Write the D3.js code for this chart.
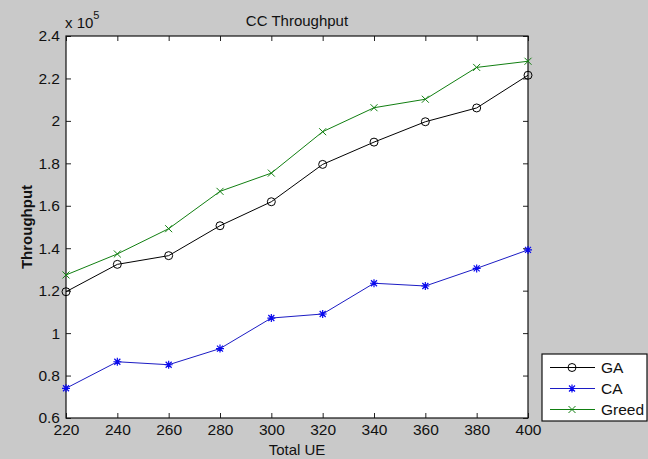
<!DOCTYPE html>
<html>
<head>
<meta charset="utf-8">
<script src="https://cdn.jsdelivr.net/npm/d3@7"></script>
<style>
	body { margin: 0; background: #c9c9c9; }
	svg text { font-family: "Liberation Sans", Arial, Helvetica, sans-serif; fill: #111; }
</style>
</head>
<body>
<div id="chart"></div>
<script>
let totalUE = [220, 240, 260, 280, 300, 320, 340, 360, 380, 400];
let gaValues = [119500, 132400, 136500, 150600, 161900, 179500, 190000, 199600, 206100, 221500];
let caValues = [74000, 86500, 85100, 92700, 107100, 109000, 123500, 122200, 130500, 139200];
let greedValues = [127400, 137300, 149200, 166800, 175400, 194900, 206200, 210200, 225200, 228100];
let xTicks = [220, 240, 260, 280, 300, 320, 340, 360, 380, 400];
let yTicks = [60000, 80000, 100000, 120000, 140000, 160000, 180000, 200000, 220000, 240000];
let seriesNames = ["GA", "CA", "Greed"];

let width = 648, height = 459;
let padding = {top: 36, right: 120, bottom: 41, left: 66};
let plot_width = width - padding.left - padding.right;
let plot_height = height - padding.top - padding.bottom;

let series = [
	{name: seriesNames[0], values: gaValues, color: "#000000", marker: "circle"},
	{name: seriesNames[1], values: caValues, color: "#1c1cc4", marker: "star"},
	{name: seriesNames[2], values: greedValues, color: "#117f11", marker: "cross"}
];

let svg = d3.select("#chart")
	.append("svg")
	.attr("width", width)
	.attr("height", height);

let graph = svg.append("g")
	.attr("transform", "translate(" + padding.left + "," + padding.top + ")");

let xScale = d3.scaleLinear().domain([220, 400]).range([0, plot_width]);
let yScale = d3.scaleLinear().domain([60000, 240000]).range([plot_height, 0]);

graph.append("rect")
	.attr("width", plot_width)
	.attr("height", plot_height)
	.attr("fill", "#fff");

function format_y(d) {
	return d3.format("~g")(Math.round(d / 1e4) / 10);
}

// ticks point inward on all four sides, like a boxed matlab axes
let xAxis = d3.axisBottom(xScale).tickValues(xTicks).tickSizeInner(-5).tickSizeOuter(0).tickPadding(6);
let yAxis = d3.axisLeft(yScale).tickValues(yTicks).tickSizeInner(-5).tickSizeOuter(0).tickPadding(6).tickFormat(format_y);
let xAxisTop = d3.axisTop(xScale).tickValues(xTicks).tickSizeInner(-5).tickSizeOuter(0).tickFormat("");
let yAxisRight = d3.axisRight(yScale).tickValues(yTicks).tickSizeInner(-5).tickSizeOuter(0).tickFormat("");

graph.append("g").attr("class", "axis").attr("transform", "translate(0," + plot_height + ")").call(xAxis);
graph.append("g").attr("class", "axis").call(yAxis);
graph.append("g").attr("class", "axis").call(xAxisTop);
graph.append("g").attr("class", "axis").attr("transform", "translate(" + plot_width + ",0)").call(yAxisRight);

graph.selectAll(".axis .domain").remove();
graph.selectAll(".axis line").attr("stroke", "#222");
graph.selectAll(".axis text")
	.style("font-size", "15.5px")
	.attr("fill", "#111");

graph.append("rect")
	.attr("width", plot_width)
	.attr("height", plot_height)
	.attr("fill", "none")
	.attr("stroke", "#111")
	.attr("stroke-width", 1.2);

function drawMarker(g, type, x, y, color) {
	if (type === "circle") {
		g.append("circle").attr("cx", x).attr("cy", y).attr("r", 4)
			.attr("fill", "none").attr("stroke", color).attr("stroke-width", 1);
	} else if (type === "cross") {
		g.append("path")
			.attr("d", "M" + (x - 3.5) + "," + (y - 3.5) + "L" + (x + 3.5) + "," + (y + 3.5) +
				"M" + (x - 3.5) + "," + (y + 3.5) + "L" + (x + 3.5) + "," + (y - 3.5))
			.attr("stroke", color).attr("stroke-width", 1);
	} else {
		g.append("path")
			.attr("d", "M" + (x - 4) + "," + y + "L" + (x + 4) + "," + y +
				"M" + x + "," + (y - 4) + "L" + x + "," + (y + 4) +
				"M" + (x - 3) + "," + (y - 3) + "L" + (x + 3) + "," + (y + 3) +
				"M" + (x - 3) + "," + (y + 3) + "L" + (x + 3) + "," + (y - 3))
			.attr("stroke", "#0a0aee").attr("stroke-width", 1.2);
	}
}

let line = d3.line()
	.x((d, i) => xScale(totalUE[i]))
	.y(d => yScale(d));

series.forEach(function (s) {
	let g = graph.append("g").attr("class", "series");
	g.append("path")
		.attr("d", line(s.values))
		.attr("fill", "none")
		.attr("stroke", s.color)
		.attr("stroke-width", 1);
	s.values.forEach(function (v, i) {
		drawMarker(g, s.marker, xScale(totalUE[i]), yScale(v), s.color);
	});
});

// title, axis labels, exponent
svg.append("text")
	.attr("x", padding.left + plot_width / 2)
	.attr("y", 26)
	.style("text-anchor", "middle")
	.style("font-size", "15px")
	.text("CC Throughput");

svg.append("text")
	.attr("x", padding.left + plot_width / 2)
	.attr("y", 455)
	.style("text-anchor", "middle")
	.style("font-size", "15px")
	.text("Total UE");

svg.append("text")
	.attr("transform", "translate(32," + (padding.top + plot_height / 2) + ") rotate(-90)")
	.style("text-anchor", "middle")
	.style("font-size", "15px")
	.style("font-weight", "bold")
	.text("Throughput");

let expo = svg.append("text")
	.attr("x", 65)
	.attr("y", 28)
	.style("font-size", "15px");
expo.append("tspan").text("x 10");
expo.append("tspan").attr("dy", -9).style("font-size", "11px").text("5");

// legend
let legend = svg.append("g").attr("transform", "translate(542,354)");
legend.append("rect")
	.attr("width", 105)
	.attr("height", 67)
	.attr("fill", "#fff")
	.attr("stroke", "#111")
	.attr("stroke-width", 1.2);

series.forEach(function (s, i) {
	let y = 13.5 + i * 21;
	legend.append("line")
		.attr("x1", 8).attr("x2", 53)
		.attr("y1", y).attr("y2", y)
		.attr("stroke", s.color).attr("stroke-width", 1);
	drawMarker(legend, s.marker, 30, y, s.color);
	legend.append("text")
		.attr("x", 59)
		.attr("y", y)
		.attr("dy", "0.36em")
		.style("font-size", "15.5px")
		.text(s.name);
});
</script>
</body>
</html>
